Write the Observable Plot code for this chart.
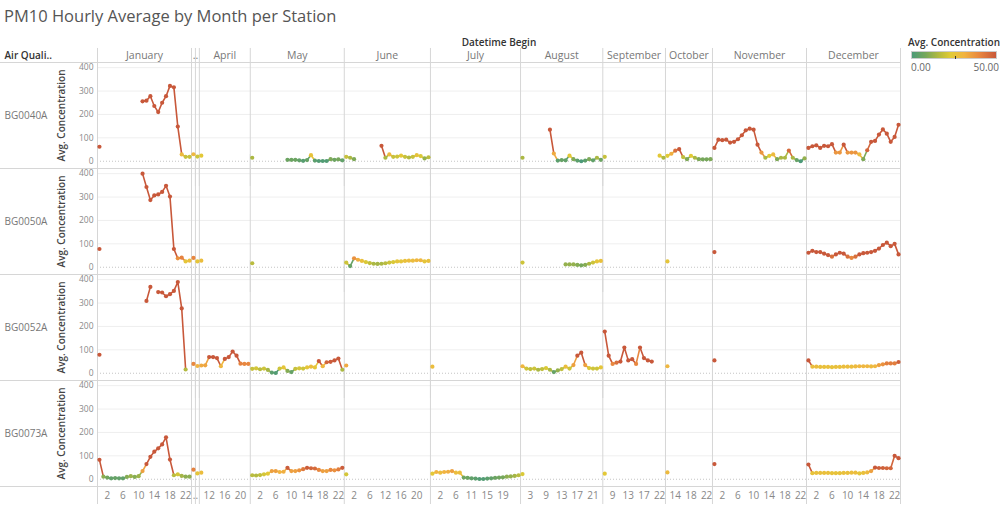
<!DOCTYPE html>
<html><head><meta charset="utf-8">
<script src="https://cdn.jsdelivr.net/npm/d3@7"></script>
<script src="https://cdn.jsdelivr.net/npm/@observablehq/plot@0.6"></script>
<style>
body{margin:0;background:#fff;font-family:"Open Sans",sans-serif;}
#wrap{position:relative;width:1000px;height:505px;overflow:hidden;background:#fff}
#title{position:absolute;left:4px;top:4px;font-size:16.5px;color:#555;white-space:nowrap}
#chart{position:absolute;left:0;top:32px}
#legend{position:absolute;left:908px;top:35px;width:92px;font-size:10px}
#legend .lt{font-weight:600;color:#333;white-space:nowrap}
#legend .bar{position:relative;margin-top:2px;margin-left:3px;width:86px;height:8px;border:1px solid #ccc;box-sizing:border-box}
#legend .tick{position:absolute;left:43px;bottom:-1px;width:1px;height:3px;background:#333}
#legend .ll{display:flex;justify-content:space-between;margin-left:3px;width:88px;color:#666;margin-top:1px}
</style></head><body>
<div id="wrap"><div id="title">PM10 Hourly Average by Month per Station</div><div id="chart"></div>
<div id="legend"><div class="lt">Avg. Concentration</div><div class="bar"><div class="tick"></div></div><div class="ll"><span>0.00</span><span>50.00</span></div></div></div>
<script>
const _ = null;
const stations = ["BG0040A","BG0050A","BG0052A","BG0073A"];
const months = ["January","February","March","April","May","June","July","August","September","October","November","December"];
const monthHeaders = ["January","..","","April","May","June","July","August","September","October","November","December"];
const monthHours = [
  [0,1,2,3,4,5,6,7,8,9,10,11,12,13,14,15,16,17,18,19,20,21,22,23],
  [12],
  [12],
  [10,11,12,13,14,15,16,17,18,19,20,21,22],
  [0,1,2,3,4,5,6,7,8,9,10,11,12,13,14,15,16,17,18,19,20,21,22,23],
  [0,1,2,3,4,5,6,7,8,11,12,13,14,15,16,17,18,19,20,21,22,23],
  [0,1,2,3,4,5,6,7,9,10,11,12,13,14,15,16,17,18,19,20,21,22,23],
  [0,2,3,4,6,8,9,10,11,12,13,14,15,16,17,18,19,20,21,22,23],
  [7,8,9,10,11,12,13,14,15,16,17,18,19,21,22,23],
  [12,13,14,15,16,17,18,19,20,21,22,23],
  [0,1,2,3,4,5,6,7,8,9,10,11,12,13,14,15,16,17,18,19,20,21,22,23],
  [0,1,2,3,4,5,6,7,8,9,10,11,12,13,14,15,16,17,18,19,20,21,22,23]
];
const tickHours = [
  [2,6,10,14,18,22],[],[],[12,16,20],[2,6,10,14,18,22],[2,6,12,16,20],
  [2,6,11,15,19],[3,9,13,17,21],[9,13,17,22],[14,18,22],[2,6,10,14,18,22],[2,6,10,14,18,22]
];
const yTicks = [0,100,200,300,400];

const bg0040a = [
  [62,_,_,_,_,_,_,_,_,_,_,256,259,278,236,210,250,278,322,316,148,29,19,19],
  [30],[20],
  [24,_,_,_,_,_,_,_,_,_,_,_,_],
  [15,_,_,_,_,_,_,_,_,6,6,6,4,2,5,26,3,1,1,1,9,6,8,4],
  [19,15,9,_,_,_,_,_,_,66,15,29,19,20,24,19,16,19,26,22,12,17],
  [_,_,_,_,_,_,_,_,_,_,_,_,_,_,_,_,_,_,_,_,_,_,_],
  [15,_,_,_,_,_,_,135,33,3,5,4,24,9,3,0,3,9,4,15,6],
  [19,_,_,_,_,_,_,_,_,_,_,_,_,_,24,15],
  [23,32,45,52,18,9,23,15,9,8,8,9],
  [57,92,90,92,80,83,94,111,132,139,135,71,37,15,23,29,9,15,15,46,15,5,0,12],
  [57,64,68,57,66,64,73,37,37,71,37,37,37,29,9,47,83,87,114,136,118,83,104,156]
];
const bg0050a = [
  [78,_,_,_,_,_,_,_,_,_,_,400,343,287,307,311,322,348,302,78,38,41,25,28],
  [40],[25],
  [28,_,_,_,_,_,_,_,_,_,_,_,_],
  [17,_,_,_,_,_,_,_,_,_,_,_,_,_,_,_,_,_,_,_,_,_,_,_],
  [20,5,38,32,27,22,18,15,14,15,17,20,22,25,25,27,28,28,30,30,25,27],
  [_,_,_,_,_,_,_,_,_,_,_,_,_,_,_,_,_,_,_,_,_,_,_],
  [20,_,_,_,_,_,_,_,_,_,_,12,12,12,10,8,10,15,20,25,27],
  [_,_,_,_,_,_,_,_,_,_,_,_,_,_,_,_],
  [25,_,_,_,_,_,_,_,_,_,_,_],
  [65,_,_,_,_,_,_,_,_,_,_,_,_,_,_,_,_,_,_,_,_,_,_,_],
  [62,70,65,65,58,52,45,55,62,58,45,40,45,55,60,62,65,70,80,95,105,90,100,55]
];
const bg0052a = [
  [79,_,_,_,_,_,_,_,_,_,_,_,309,369,_,347,345,329,338,352,390,277,16,_],
  [40],[31],
  [33,34,69,69,65,30,61,69,93,75,41,40,40],
  [19,21,17,20,14,3,1,20,25,10,5,19,21,20,25,28,25,52,30,47,49,55,63,15],
  [33,_,_,_,_,_,_,_,_,_,_,_,_,_,_,_,_,_,_,_,_,_],
  [28,_,_,_,_,_,_,_,_,_,_,_,_,_,_,_,_,_,_,_,_,_,_],
  [30,20,18,20,15,18,22,15,5,12,18,28,20,35,75,88,35,22,20,20,25],
  [178,75,40,45,50,110,55,60,40,110,65,55,50,_,_,_],
  [30,_,_,_,_,_,_,_,_,_,_,_],
  [55,_,_,_,_,_,_,_,_,_,_,_,_,_,_,_,_,_,_,_,_,_,_,_],
  [55,28,28,27,27,27,26,27,27,28,28,28,29,30,30,30,29,30,35,38,42,42,42,48]
];
const bg0073a = [
  [83,11,7,4,5,4,4,10,13,10,13,35,65,96,118,132,149,179,84,17,21,14,11,11],
  [41],[25],
  [28,_,_,_,_,_,_,_,_,_,_,_,_],
  [17,16,18,21,24,35,35,31,32,49,35,35,38,43,49,47,46,40,35,35,40,38,42,49],
  [21,_,_,_,_,_,_,_,_,_,_,_,_,_,_,_,_,_,_,_,_,_],
  [24,31,28,31,32,35,28,28,7,6,4,3,1,1,3,4,6,7,8,11,12,14,17],
  [22,_,_,_,_,_,_,_,_,_,_,_,_,_,_,_,_,_,_,_,_],
  [24,_,_,_,_,_,_,_,_,_,_,_,_,_,_,_],
  [29,_,_,_,_,_,_,_,_,_,_,_],
  [65,_,_,_,_,_,_,_,_,_,_,_,_,_,_,_,_,_,_,_,_,_,_,_],
  [63,26,27,27,27,27,26,26,26,27,27,28,28,25,27,29,35,50,48,48,47,47,100,90]
];
const series = [bg0040a, bg0050a, bg0052a, bg0073a];

const colorStops = [0, 8, 16, 23, 31, 40, 50];
const colorRange = ["#4d9a78", "#76a75b", "#b3ba40", "#e1cb36", "#f1b441", "#e8873f", "#c8583a"];

// layout of the discrete month/hour columns
const monthStart = [];
let n = 0;
monthHours.forEach(hs => { monthStart.push(n); n += hs.length; });
const N = n;
const boundaries = monthStart.map(s => s - 0.5).concat([N - 0.5]);

const points = [];
stations.forEach((s, si) => {
  months.forEach((m, mi) => {
    monthHours[mi].forEach((h, k) => {
      const v = series[si][mi][k];
      points.push({s, m, key: s + "|" + m, gi: monthStart[mi] + k, v: v == null ? NaN : v});
    });
  });
});
const dots = points.filter(d => !isNaN(d.v));

const headerData = months.map((m, mi) => ({
  x: mi === 1 ? monthStart[1] + 0.5 : monthStart[mi] + (monthHours[mi].length - 1) / 2,
  label: monthHeaders[mi]
})).filter(d => d.label);

const tickData = [{x: monthStart[1] + 0.5, label: ".."}];
monthHours.forEach((hs, mi) => tickHours[mi].forEach(h => tickData.push({x: monthStart[mi] + hs.indexOf(h), label: String(h)})));

const colorScale = {type: "linear", domain: colorStops, range: colorRange, clamp: true};
const xLeft = -0.5 - 97 / (803 / N);
const topStation = stations[0], bottomStation = stations[stations.length - 1];
const grey = "#d6d6d6";
const yMin = -31, yMax = 422;

const chart = Plot.plot({
  width: 1000, height: 473,
  marginLeft: 97, marginRight: 100, marginTop: 28, marginBottom: 18,
  style: {fontFamily: "'Open Sans', sans-serif", fontSize: "10px", background: "white", overflow: "visible"},
  x: {domain: [-0.5, N - 0.5], axis: null},
  y: {domain: [yMin, yMax], axis: null},
  fy: {domain: stations, padding: 0, axis: null},
  color: colorScale,
  marks: [
    Plot.ruleY([100, 200, 300, 400], {stroke: "#efefef"}),
    Plot.ruleY([0], {stroke: "#c4c4c4", strokeDasharray: "1,2"}),
    Plot.ruleY([yMax], {x1: xLeft, x2: N - 0.5, stroke: grey}),
    Plot.ruleY([yMin], {fy: () => bottomStation, x1: xLeft, x2: N - 0.5, stroke: grey}),
    Plot.ruleX(boundaries, {y1: -108, y2: 482, stroke: grey}),
    Plot.line(points, {x: "gi", y: "v", z: "key", fy: "s", stroke: "v", strokeWidth: 1.6}),
    Plot.dot(dots, {x: "gi", y: "v", fy: "s", fill: "v", r: 2.1}),
    Plot.text(yTicks, {y: d => d, text: d => String(d), frameAnchor: "left", dx: -4, textAnchor: "end", fill: "#8a8a8a", fontSize: 8.5}),
    Plot.text(["Avg. Concentration"], {frameAnchor: "left", dx: -36, rotate: -90, textAnchor: "middle", lineAnchor: "middle", fill: "#444", fontWeight: 600, fontSize: 10}),
    Plot.text(stations, {fy: d => d, text: d => d, frameAnchor: "left", dx: -93, textAnchor: "start", fill: "#777", fontSize: 10}),
    Plot.text(headerData, {fy: () => topStation, x: "x", text: "label", frameAnchor: "top", lineAnchor: "middle", dy: -7, fill: "#777", fontSize: 10.5}),
    Plot.text(["Datetime Begin"], {fy: () => topStation, x: () => (N - 1) / 2, frameAnchor: "top", lineAnchor: "middle", dy: -20, fill: "#333", fontWeight: 600, fontSize: 10}),
    Plot.text(["Air Quali.."], {fy: () => topStation, frameAnchor: "top-left", lineAnchor: "middle", dx: -93, dy: -7, textAnchor: "start", fill: "#333", fontWeight: 600, fontSize: 10}),
    Plot.text(tickData, {fy: () => bottomStation, x: "x", text: "label", frameAnchor: "bottom", lineAnchor: "middle", dy: 9, fill: "#888", fontSize: 10})
  ]
});
document.getElementById("chart").appendChild(chart);

// legend ramp from the same colour scale
const bar = document.querySelector("#legend .bar");
bar.style.background = "linear-gradient(to right," + colorStops.map((s, i) => colorRange[i] + " " + (s / 50 * 100) + "%").join(",") + ")";
</script>
</body></html>
